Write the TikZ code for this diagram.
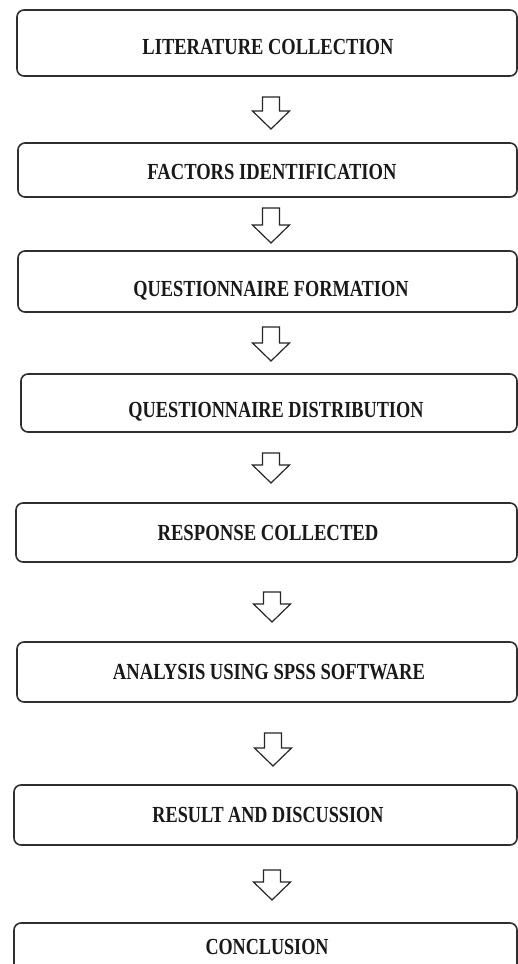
\documentclass[tikz,border=0pt]{standalone}
\usepackage{fontspec}
\setmainfont{Liberation Serif}
\newcommand\fitlab[2]{\resizebox{#1pt}{\height}{\fontsize{23}{23}\selectfont\bfseries #2}}
\tikzset{
  stepbox/.style={draw=black!82, line width=1.6pt, rounded corners=7pt, fill=white},
  steptext/.style={inner sep=0pt, text=black!90},
  blockarrow/.style={draw=black!85, line width=1.2pt, line join=miter}
}
% #1 name, #2 x, #3 top y, #4 tip y
\newcommand\hollowarrow[4]{%
  \coordinate (#1) at (#2,#3);
  \draw[blockarrow] (#1) ++(-8.5,0) -- ++(17,0) -- (#2+8.5,#4-18) -- (#2+18.5,#4-18)
     -- (#2,#4) -- (#2-18.5,#4-18) -- (#2-8.5,#4-18) -- cycle;}
\begin{document}
\begin{tikzpicture}[x=1pt,y=-1pt]
\useasboundingbox (0,0) rectangle (518,964);
\clip (0,0) rectangle (518,964);
\fill[white] (0,0) rectangle (518,964);
% boxes
\draw[stepbox] (17,10) rectangle (517,76) node[pos=0.5,inner sep=0] (b1) {};
\draw[stepbox] (18,143) rectangle (517,197) node[pos=0.5,inner sep=0] (b2) {};
\draw[stepbox] (18,251) rectangle (517,312) node[pos=0.5,inner sep=0] (b3) {};
\draw[stepbox] (21,374) rectangle (517,432) node[pos=0.5,inner sep=0] (b4) {};
\draw[stepbox] (16,503) rectangle (517,562) node[pos=0.5,inner sep=0] (b5) {};
\draw[stepbox] (17,642) rectangle (517,702) node[pos=0.5,inner sep=0] (b6) {};
\draw[stepbox] (14,785) rectangle (517,845) node[pos=0.5,inner sep=0] (b7) {};
\draw[stepbox] (14,923) rectangle (517,990) node[pos=0.5,inner sep=0] (b8) {};
% texts
\node[steptext] (t1) at (268,47) {\fitlab{251}{LITERATURE COLLECTION}};
\node[steptext] (t2) at (272,172) {\fitlab{249}{FACTORS IDENTIFICATION}};
\node[steptext] (t3) at (271,291) {\fitlab{275}{QUESTIONNAIRE FORMATION}};
\node[steptext] (t4) at (276,412) {\fitlab{295}{QUESTIONNAIRE DISTRIBUTION}};
\node[steptext] (t5) at (268,533) {\fitlab{221}{RESPONSE COLLECTED}};
\node[steptext] (t6) at (269,672) {\fitlab{312}{ANALYSIS USING SPSS SOFTWARE}};
\node[steptext] (t7) at (268,815) {\fitlab{231}{RESULT AND DISCUSSION}};
\node[steptext] (t8) at (267,947) {\fitlab{123}{CONCLUSION}};
% arrows
\hollowarrow{a1}{271}{97}{129}
\hollowarrow{a2}{271}{208}{243}
\hollowarrow{a3}{271}{327}{361}
\hollowarrow{a4}{271}{453}{483}
\hollowarrow{a5}{272}{592}{622}
\hollowarrow{a6}{273}{733}{766}
\hollowarrow{a7}{272}{870}{900}
\end{tikzpicture}
\end{document}
